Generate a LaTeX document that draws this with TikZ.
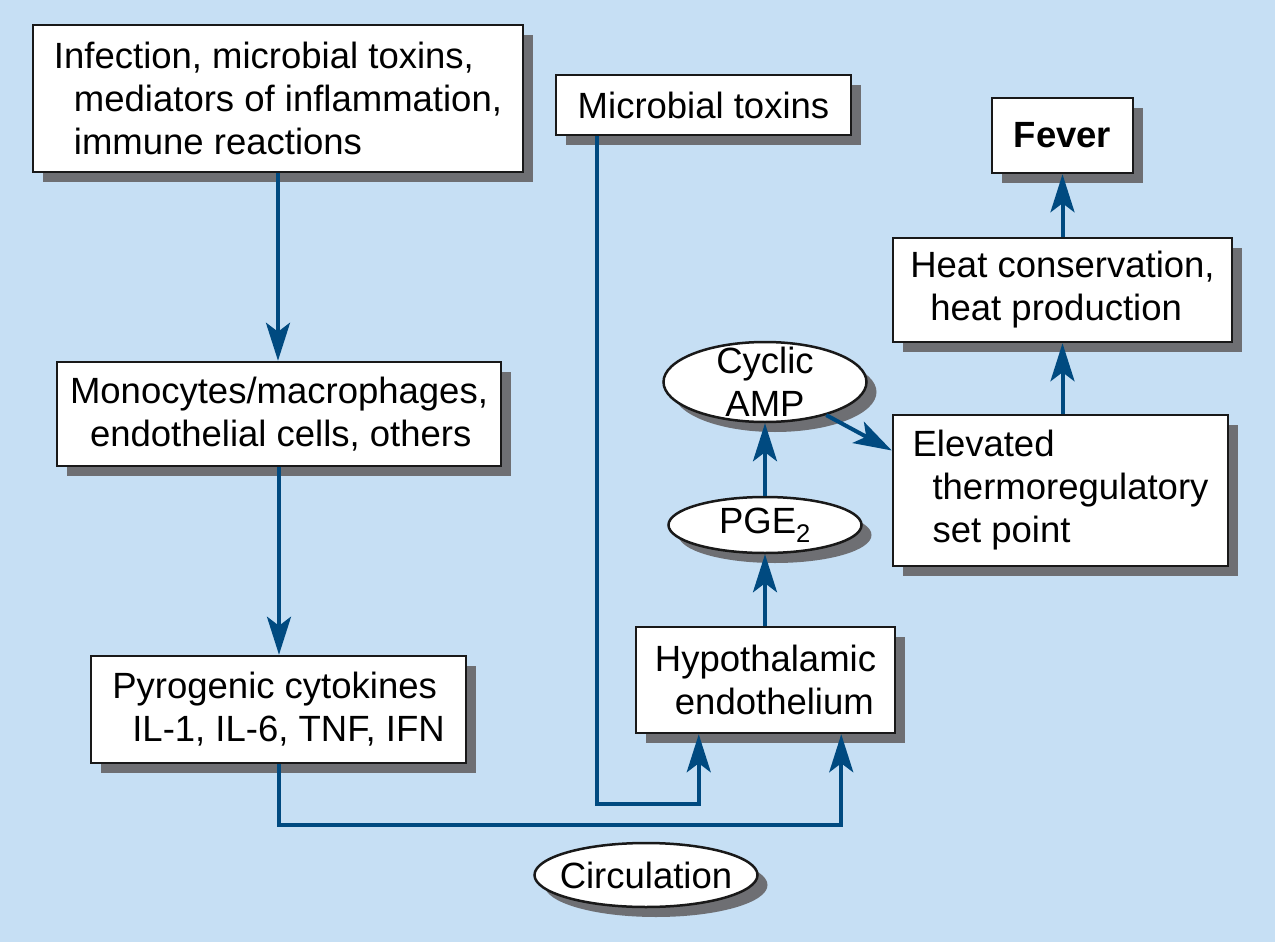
\documentclass[tikz,border=0pt]{standalone}
\usepackage{fontspec}
\setmainfont{Liberation Sans}
\usetikzlibrary{arrows.meta,shapes.geometric,shadows,calc}
\definecolor{bg}{RGB}{198,223,244}
\definecolor{ln}{RGB}{0,74,128}
\definecolor{shd}{RGB}{110,111,115}
\begin{document}
\begin{tikzpicture}[x=1pt,y=-1pt,
  font=\fontsize{36.5}{43}\selectfont,
  box/.style={draw=black!90, line width=2.5pt, fill=white, rectangle, inner sep=0pt, align=left,
    drop shadow={shadow xshift=10pt, shadow yshift=-10pt, fill=shd, opacity=1}},
  oval/.style={draw=black!90, line width=2.5pt, fill=white, ellipse, inner sep=0pt,
    drop shadow={shadow xshift=10pt, shadow yshift=-10pt, fill=shd, opacity=1}},
  arr/.style={draw=ln, line width=4pt, -{Stealth[length=38pt,width=24pt,inset=9pt]}},
  lbl/.style={font=\fontsize{36.5}{43}\selectfont, align=center}]
\fill[bg] (0,0) rectangle (1275,942);
\useasboundingbox (0,0) rectangle (1275,942);

\node[box, minimum width=490, minimum height=147] (inf) at (278,98.5)
  {Infection, microbial toxins,\\\hspace*{20pt}mediators of inflammation,\\\hspace*{20pt}immune reactions};
\node[box, minimum width=295, minimum height=60] (mt) at (703.5,105) {Microbial toxins};
\node[box, minimum width=141, minimum height=75, font=\fontsize{36.5}{43}\selectfont\bfseries] (fever) at (1062.5,135.5) {Fever};
\node[box, minimum width=339, minimum height=104] (heat) at (1062.5,290)
  {Heat conservation,\\\hspace*{20pt}heat production};
\node[oval, minimum width=203, minimum height=80,
  label={[lbl]center:Cyclic\\AMP}] (camp) at (765,382) {};
\node[box, minimum width=335, minimum height=151] (elev) at (1060.5,490.5)
  {Elevated\\\hspace*{20pt}thermoregulatory\\\hspace*{20pt}set point};
\node[oval, minimum width=193, minimum height=56,
  label={[lbl]center:PGE\textsubscript{2}}] (pge) at (765,525) {};
\node[box, minimum width=259, minimum height=106] (hyp) at (765.5,680)
  {Hypothalamic\\\hspace*{20pt}endothelium};
\node[box, minimum width=444, minimum height=104] (mono) at (279,414)
  {Monocytes/macrophages,\\\hspace*{20pt}endothelial cells, others};
\node[box, minimum width=375, minimum height=107] (pyro) at (278.5,709.5)
  {Pyrogenic cytokines\\\hspace*{20pt}IL-1, IL-6, TNF, IFN};
\node[oval, minimum width=223, minimum height=64,
  label={[lbl]center:Circulation}] (circ) at (646,875) {};

\draw[arr] (inf.south) -- (inf.south |- mono.north);
\draw[arr] (mono.south) -- (mono.south |- pyro.north);
\draw[arr] (pyro.south) -- ++(0,61) -| ([xshift=-55pt]hyp.south east);
\draw[arr] ([xshift=42pt]mt.south west) -- ++(0,668) -| ([xshift=64pt]hyp.south west);
\draw[arr] (hyp.north -| pge.south) -- (pge.south);
\draw[arr] (pge.north) -- (camp.south);
\draw[arr] (camp) -- ([yshift=40pt]elev.west);
\draw[arr] (heat.south |- elev.north) -- (heat.south);
\draw[arr] (heat.north) -- (fever.south);
\end{tikzpicture}
\end{document}
